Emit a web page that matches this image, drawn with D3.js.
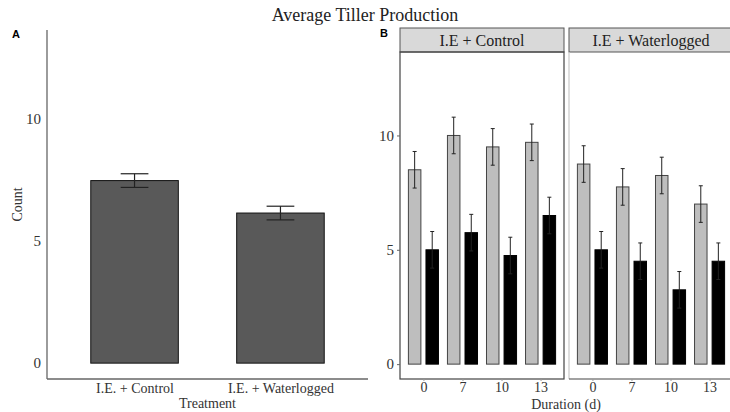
<!DOCTYPE html>
<html><head><meta charset="utf-8">
<script src="https://cdn.jsdelivr.net/npm/d3@7"></script>
<style>body{margin:0;background:#fff}svg{display:block}</style>
</head><body>
<svg id="c" width="730" height="412"></svg>
<script>
// ---- data ----
const treatments = ["I.E. + Control", "I.E. + Waterlogged"];
const treatMeans = [7.48, 6.15];
const treatErr = [0.28, 0.28];

const facets = ["I.E + Control", "I.E + Waterlogged"];
const durations = ["0", "7", "10", "13"];
const grayMeans = [[8.5, 10.0, 9.5, 9.7], [8.75, 7.75, 8.25, 7.0]];
const grayErr = [[0.8, 0.8, 0.8, 0.8], [0.8, 0.8, 0.8, 0.8]];
const blackMeans = [[5.0, 5.75, 4.75, 6.5], [5.0, 4.5, 3.25, 4.5]];
const blackErr = [[0.8, 0.8, 0.8, 0.8], [0.8, 0.8, 0.8, 0.8]];
const yTicks = [0, 5, 10];

const svg = d3.select("#c");
const serif = "'Liberation Serif','DejaVu Serif',serif";

// title
svg.append("text").attr("x", 365).attr("y", 21).attr("text-anchor", "middle")
  .attr("font-family", serif).attr("font-size", 18).attr("fill", "#222").text("Average Tiller Production");

// ---- Panel A ----
const A = {l: 47, r: 368, t: 30, b: 379};
const yA = d3.scaleLinear().domain([-0.65, 13.65]).range([A.b, A.t]);
const xA = d3.scalePoint().domain(treatments).range([A.l, A.r]).padding(0.6);
const stepA = xA.step();
svg.append("text").attr("x", 12).attr("y", 38).attr("font-family", "'Liberation Sans',Arial,sans-serif")
  .attr("font-weight", "bold").attr("font-size", 11).text("A");

const gA = svg.append("g");
gA.selectAll("rect.bar").data(treatments).join("rect")
  .attr("x", d => xA(d) - stepA * 0.3).attr("width", stepA * 0.6)
  .attr("y", (d, i) => yA(treatMeans[i])).attr("height", (d, i) => yA(0) - yA(treatMeans[i]))
  .attr("fill", "#595959").attr("stroke", "#111").attr("stroke-width", 1);
treatments.forEach((d, i) => {
  const cx = xA(d), hw = stepA * 0.095;
  const y1 = yA(treatMeans[i] + treatErr[i]), y2 = yA(treatMeans[i] - treatErr[i]);
  const g = gA.append("g").attr("stroke", "#222").attr("stroke-width", 1.2);
  g.append("line").attr("x1", cx).attr("x2", cx).attr("y1", y1).attr("y2", y2);
  g.append("line").attr("x1", cx - hw).attr("x2", cx + hw).attr("y1", y1).attr("y2", y1);
  g.append("line").attr("x1", cx - hw).attr("x2", cx + hw).attr("y1", y2).attr("y2", y2);
});
const axAy = svg.append("g").attr("transform", `translate(${A.l},0)`)
  .call(d3.axisLeft(yA).tickValues(yTicks).tickSize(0).tickPadding(6));
axAy.select(".domain").remove();
axAy.selectAll("text").attr("font-family", serif).attr("font-size", 15).attr("fill", "#333");
const axAx = svg.append("g").attr("transform", `translate(0,${A.b})`)
  .call(d3.axisBottom(xA).tickSize(0).tickPadding(4));
axAx.select(".domain").remove();
axAx.selectAll("text").attr("font-family", serif).attr("font-size", 14).attr("fill", "#333");
svg.append("line").attr("x1", A.l).attr("x2", A.l).attr("y1", A.t).attr("y2", A.b).attr("stroke", "#666").attr("stroke-width", 1.3);
svg.append("line").attr("x1", A.l).attr("x2", A.r).attr("y1", A.b).attr("y2", A.b).attr("stroke", "#666").attr("stroke-width", 1.3);
svg.append("text").attr("x", (A.l + A.r) / 2).attr("y", 408).attr("text-anchor", "middle")
  .attr("font-family", serif).attr("font-size", 14).attr("fill", "#333").text("Treatment");
svg.append("text").attr("transform", `translate(22,${(A.t + A.b) / 2}) rotate(-90)`).attr("text-anchor", "middle")
  .attr("font-family", serif).attr("font-size", 14).attr("fill", "#333").text("Count");

// ---- Panel B ----
svg.append("text").attr("x", 380).attr("y", 37).attr("font-family", "'Liberation Sans',Arial,sans-serif")
  .attr("font-weight", "bold").attr("font-size", 11).text("B");
const B = {t: 52, b: 379, stripT: 28, w: 164};
const facetX = [400, 569];
const yB = d3.scaleLinear().domain([-0.65, 13.65]).range([B.b, B.t]);

facets.forEach((f, fi) => {
  const x0 = facetX[fi];
  const xB = d3.scalePoint().domain(durations).range([x0, x0 + B.w]).padding(0.6);
  const st = xB.step();
  const g = svg.append("g");
  // strip
  g.append("rect").attr("x", x0).attr("y", B.stripT).attr("width", B.w).attr("height", B.t - B.stripT)
    .attr("fill", "#d9d9d9").attr("stroke", "#555").attr("stroke-width", 1);
  g.append("text").attr("x", x0 + B.w / 2).attr("y", B.stripT + 18).attr("text-anchor", "middle")
    .attr("font-family", serif).attr("font-size", 16).attr("fill", "#222").text(f);
  // bars
  const off = st * 0.225, bw = st * 0.32;
  g.selectAll("rect.gray").data(durations).join("rect")
    .attr("x", d => xB(d) - off - bw / 2).attr("width", bw)
    .attr("y", (d, i) => yB(grayMeans[fi][i])).attr("height", (d, i) => yB(0) - yB(grayMeans[fi][i]))
    .attr("fill", "#bebebe").attr("stroke", "#444").attr("stroke-width", 1);
  g.selectAll("rect.black").data(durations).join("rect")
    .attr("x", d => xB(d) + off - bw / 2).attr("width", bw)
    .attr("y", (d, i) => yB(blackMeans[fi][i])).attr("height", (d, i) => yB(0) - yB(blackMeans[fi][i]))
    .attr("fill", "#000").attr("stroke", "#000").attr("stroke-width", 1);
  const eb = (cx, m, e) => {
    const y1 = yB(m + e), y2 = yB(m - e), hw = 2;
    const gg = g.append("g").attr("stroke", "#222").attr("stroke-width", 1);
    gg.append("line").attr("x1", cx).attr("x2", cx).attr("y1", y1).attr("y2", y2);
    gg.append("line").attr("x1", cx - hw).attr("x2", cx + hw).attr("y1", y1).attr("y2", y1);
    gg.append("line").attr("x1", cx - hw).attr("x2", cx + hw).attr("y1", y2).attr("y2", y2);
  };
  durations.forEach((d, i) => {
    eb(xB(d) - off, grayMeans[fi][i], grayErr[fi][i]);
    eb(xB(d) + off, blackMeans[fi][i], blackErr[fi][i]);
  });
  // panel border
  if (fi === 0) {
    g.append("rect").attr("x", x0).attr("y", B.t).attr("width", B.w).attr("height", B.b - B.t)
      .attr("fill", "none").attr("stroke", "#444").attr("stroke-width", 1.2);
    const ay = svg.append("g").attr("transform", `translate(${x0},0)`)
      .call(d3.axisLeft(yB).tickValues(yTicks).tickSize(3).tickPadding(3));
    ay.select(".domain").remove();
    ay.selectAll("line").attr("stroke", "#666");
    ay.selectAll("text").attr("font-family", serif).attr("font-size", 15).attr("fill", "#333");
  } else {
    g.append("line").attr("x1", x0).attr("x2", x0).attr("y1", B.t).attr("y2", B.b).attr("stroke", "#c8c8c8").attr("stroke-width", 1.2);
    g.append("line").attr("x1", x0).attr("x2", x0 + B.w).attr("y1", B.b).attr("y2", B.b).attr("stroke", "#444").attr("stroke-width", 1.2);
  }
  const ax = svg.append("g").attr("transform", `translate(0,${B.b})`)
    .call(d3.axisBottom(xB).tickSize(2).tickPadding(1));
  ax.select(".domain").remove();
  ax.selectAll("line").attr("stroke", "#999");
  ax.selectAll("text").attr("font-family", serif).attr("font-size", 14).attr("fill", "#333");
});
svg.append("text").attr("x", 566).attr("y", 409).attr("text-anchor", "middle")
  .attr("font-family", serif).attr("font-size", 14).attr("fill", "#333").text("Duration (d)");
</script>
</body></html>
